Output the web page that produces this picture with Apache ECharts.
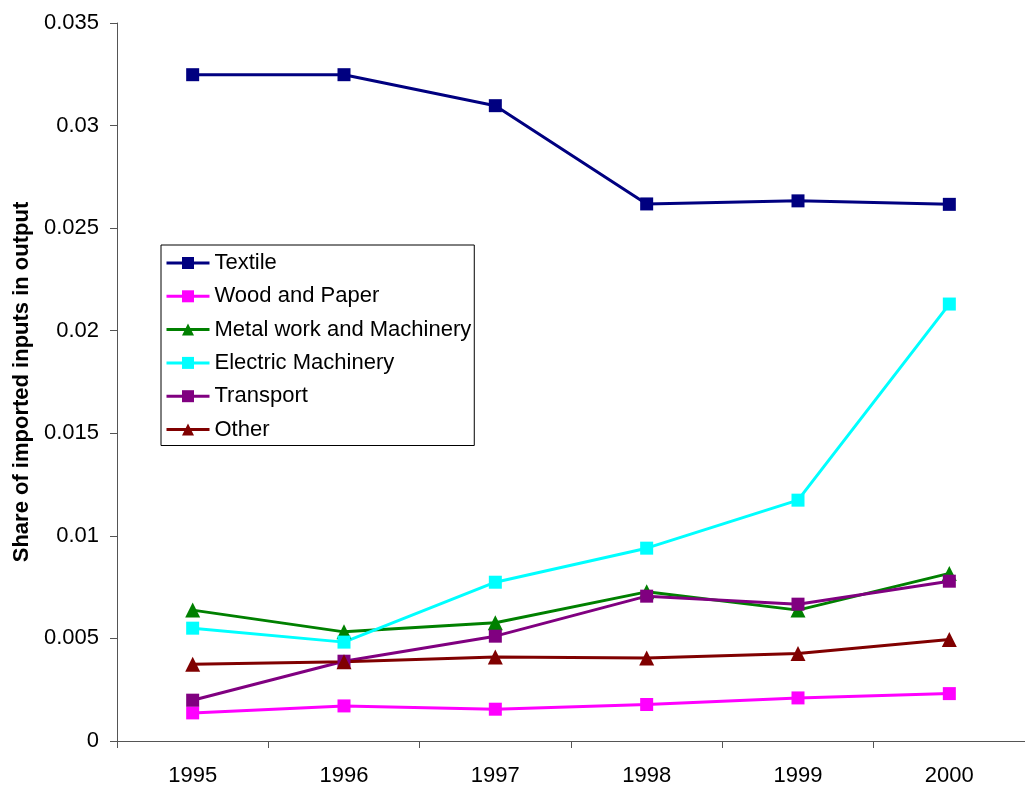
<!DOCTYPE html>
<html>
<head>
<meta charset="utf-8">
<script src="https://cdn.jsdelivr.net/npm/echarts@6/dist/echarts.min.js"></script>
<style>html,body{margin:0;padding:0;background:#fff}#c{width:1025px;height:787px}</style>
</head>
<body>
<div id="c"></div>
<script>
const years = ['1995', '1996', '1997', '1998', '1999', '2000'];
const textile = [0.03248, 0.03248, 0.03097, 0.02618, 0.02633, 0.02616];
const woodPaper = [0.00137, 0.00171, 0.00155, 0.00178, 0.00210, 0.00231];
const metalWork = [0.00638, 0.00532, 0.00576, 0.00727, 0.00638, 0.00817];
const electric = [0.00550, 0.00482, 0.00774, 0.00940, 0.01174, 0.02130];
const transport = [0.00199, 0.00389, 0.00511, 0.00706, 0.00667, 0.00779];
const other = [0.00374, 0.00386, 0.00410, 0.00405, 0.00426, 0.00495];
const yTicks = [0, 0.005, 0.01, 0.015, 0.02, 0.025, 0.03, 0.035];

const FONT = '"Liberation Sans", Arial, sans-serif';
function mk(name, data, color, symbol) {
  return {
    name: name, type: 'line', data: data,
    symbol: symbol, symbolSize: symbol === 'rect' ? 13 : 15,
    lineStyle: { color: color, width: 3 },
    itemStyle: { color: color },
    animation: false
  };
}
const chart = echarts.init(document.getElementById('c'), null, { renderer: 'canvas' });
chart.setOption({
  backgroundColor: '#ffffff',
  animation: false,
  grid: { left: 117, top: 23, width: 912, height: 718 },
  legend: {
    orient: 'vertical', left: 161, top: 245,
    padding: [7, 3, 5, 4], itemGap: 11.3,
    itemWidth: 43, itemHeight: 15,
    borderColor: '#000', borderWidth: 1,
    lineStyle: { width: 3 },
    textStyle: { fontFamily: FONT, fontSize: 22, color: '#000', lineHeight: 22 },
    data: ['Textile', 'Wood and Paper', 'Metal work and Machinery', 'Electric Machinery', 'Transport', 'Other']
  },
  xAxis: {
    type: 'category', data: years, boundaryGap: true,
    axisLine: { lineStyle: { color: '#555', width: 1 } },
    axisTick: { show: true, length: 7, inside: false, lineStyle: { color: '#555' } },
    axisLabel: { fontFamily: FONT, fontSize: 22, color: '#000', margin: 24 },
    splitLine: { show: false }
  },
  yAxis: {
    type: 'value', min: 0, max: 0.035, interval: 0.005,
    name: 'Share of imported inputs in output', nameLocation: 'middle', nameGap: 84,
    nameTextStyle: { fontFamily: FONT, fontSize: 22, fontWeight: 'bold', color: '#000' },
    axisLine: { show: true, lineStyle: { color: '#555', width: 1 } },
    axisTick: { show: true, length: 7, inside: false, lineStyle: { color: '#555' } },
    axisLabel: { fontFamily: FONT, fontSize: 22, color: '#000', margin: 18,
      formatter: function (v) { return yTicks.includes(+v.toFixed(3)) ? String(+v.toFixed(3)) : ''; } },
    splitLine: { show: false }
  },
  series: [
    mk('Textile', textile, '#000080', 'rect'),
    mk('Wood and Paper', woodPaper, '#ff00ff', 'rect'),
    mk('Metal work and Machinery', metalWork, '#008000', 'triangle'),
    mk('Electric Machinery', electric, '#00ffff', 'rect'),
    mk('Transport', transport, '#800080', 'rect'),
    mk('Other', other, '#800000', 'triangle')
  ]
});
</script>
</body>
</html>
